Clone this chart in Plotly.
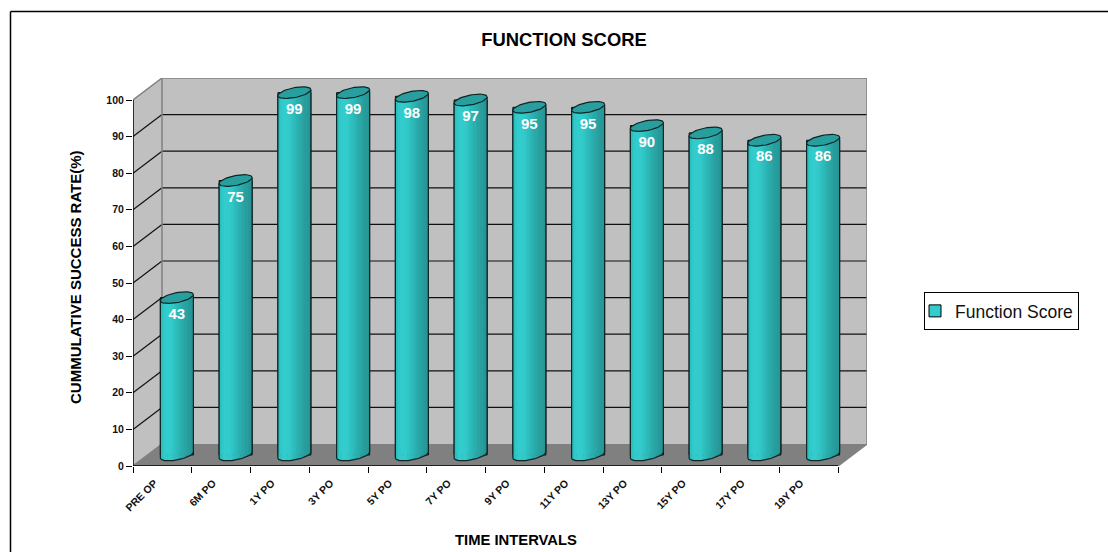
import numpy as np
import plotly.graph_objects as go

categories = ["PRE OP", "6M PO", "1Y PO", "3Y PO", "5Y PO", "7Y PO", "9Y PO", "11Y PO", "13Y PO", "15Y PO", "17Y PO", "19Y PO"]
values = [43, 75, 99, 99, 98, 97, 95, 95, 90, 88, 86, 86]
y_ticks = list(range(0, 101, 10))
series_name = "Function Score"
strip_colors = ["#2BBEBE", "#30C8C8", "#33CCCC", "#33CCCC", "#33CACA", "#31C5C5", "#2FBEBE", "#2DB7B7",
                "#2BB0B0", "#2AA9A9", "#29A3A3", "#289D9D", "#279999", "#269494"]

W, H = 1108, 552
PX_L, PX_R, PX_T, PX_B = 133, 867, 78, 466
PX_PER_CAT = 705 / 12
PX_PER_UNIT = 3.66
DX = 29 / PX_PER_CAT        # depth of the 3-D box, category units
DY = 22 / PX_PER_UNIT       # depth of the 3-D box, value units
x0, x1 = -0.5, 11.5
y_top = (PX_B - PX_T) / PX_PER_UNIT
x_end = x0 + (PX_R - PX_L) / PX_PER_CAT
n = len(categories)
idx = np.arange(n)
BAR_W = 33 / PX_PER_CAT
ELL_B = 5 / PX_PER_UNIT
ELL_K = 3 / PX_PER_UNIT
centers = idx + DX / 2

fig = go.Figure()

# solid bar body through the bar engine
fig.add_trace(go.Bar(x=centers, y=values, base=DY / 2, width=BAR_W, name=series_name,
                     marker=dict(color="#33CCCC", line=dict(color="black", width=1)),
                     showlegend=True, hoverinfo="skip"))

def front_edge(cx, level, t0, t1, m=6):
    """points along the lower half of the tilted ellipse, between fractions t0,t1 of the width"""
    u = np.linspace(t0, t1, m)
    c = 2 * u - 1
    s = np.sqrt(np.clip(1 - c * c, 0, 1))
    return cx + c * BAR_W / 2, level + c * ELL_K - s * ELL_B

m = len(strip_colors)
for cx, v in zip(centers, values):
    top = v + DY / 2
    bot = DY / 2
    for j, col in enumerate(strip_colors):
        t0, t1 = j / m, (j + 1.15) / m
        t1 = min(t1, 1)
        xa, ya = front_edge(cx, top, t0, t1)
        xb, yb = front_edge(cx, bot, t0, t1)
        fig.add_trace(go.Scatter(x=np.r_[xa, xb[::-1]], y=np.r_[ya, yb[::-1]], mode="lines", fill="toself",
                                 fillcolor=col, line=dict(width=0, color=col), showlegend=False, hoverinfo="skip"))
    # outline of the side and the base
    xb, yb = front_edge(cx, bot, 0, 1, 40)
    xo = np.r_[cx - BAR_W / 2, xb, cx + BAR_W / 2]
    yo = np.r_[top - ELL_K, yb, top + ELL_K]
    fig.add_trace(go.Scatter(x=xo, y=yo, mode="lines", line=dict(color="#0F2626", width=1.2),
                             showlegend=False, hoverinfo="skip"))
    # top cap
    th = np.linspace(0, 2 * np.pi, 60)
    xc = cx + np.cos(th) * BAR_W / 2
    yc = top + np.cos(th) * ELL_K + np.sin(th) * ELL_B
    fig.add_trace(go.Scatter(x=xc, y=yc, mode="lines", fill="toself", fillcolor="#289E9E",
                             line=dict(color="#0F2626", width=1.2), showlegend=False, hoverinfo="skip"))

# value labels
fig.add_trace(go.Scatter(x=centers, y=np.array(values) + DY / 2 - 17.5 / PX_PER_UNIT, mode="text",
                         text=[str(v) for v in values], textposition="middle center",
                         textfont=dict(family="Liberation Sans", size=15, color="white", weight="bold"),
                         showlegend=False, hoverinfo="skip"))

shapes = []
GRID = "#101010"
WALL = "#C0C0C0"
EDGE = "#808080"
# back wall, side wall, floor
shapes.append(dict(type="path", layer="below", xref="x", yref="y", line=dict(width=0), fillcolor=WALL,
                   path=f"M{x0+DX},{DY} L{x1+DX},{DY} L{x1+DX},{100+DY} L{x0+DX},{100+DY} Z"))
shapes.append(dict(type="path", layer="below", xref="x", yref="y", line=dict(width=0), fillcolor=WALL,
                   path=f"M{x0},0 L{x0+DX},{DY} L{x0+DX},{100+DY} L{x0},100 Z"))
shapes.append(dict(type="path", layer="below", xref="x", yref="y", line=dict(width=0), fillcolor=EDGE,
                   path=f"M{x0},0 L{x0+DX},{DY} L{x1+DX},{DY} L{x1},0 Z"))
for t in y_ticks[1:-1]:
    shapes.append(dict(type="line", layer="below", xref="x", yref="y", x0=x0, y0=t, x1=x0 + DX, y1=t + DY,
                       line=dict(color=GRID, width=1.2)))
    shapes.append(dict(type="line", layer="below", xref="x", yref="y", x0=x0 + DX, y0=t + DY, x1=x1 + DX, y1=t + DY,
                       line=dict(color=GRID, width=1.2)))
# grey wall edges
for a, b, c, d in [(x0, 100, x0 + DX, 100 + DY), (x0 + DX, 100 + DY, x1 + DX, 100 + DY),
                   (x1 + DX, 100 + DY, x1 + DX, DY), (x0 + DX, 100 + DY, x0 + DX, DY),
                   (x1 + DX, DY, x1, 0), (x0, 0, x0 + DX, DY)]:
    shapes.append(dict(type="line", layer="below", xref="x", yref="y", x0=a, y0=b, x1=c, y1=d,
                       line=dict(color=EDGE, width=1.5)))
# front axis lines
shapes.append(dict(type="line", layer="above", xref="x", yref="y", x0=x0, y0=0, x1=x0, y1=100,
                   line=dict(color="black", width=1.5)))
shapes.append(dict(type="line", layer="above", xref="x", yref="y", x0=x0, y0=0, x1=x1, y1=0,
                   line=dict(color="black", width=1.5)))
# outer frame, top and left only
shapes.append(dict(type="line", xref="paper", yref="paper", x0=10.5 / W, x1=1, y0=1 - 11.5 / H, y1=1 - 11.5 / H,
                   line=dict(color="black", width=1.5)))
shapes.append(dict(type="line", xref="paper", yref="paper", x0=10.5 / W, x1=10.5 / W, y0=0, y1=1 - 11.5 / H,
                   line=dict(color="black", width=1.5)))

annotations = [
    dict(text="<b>TIME INTERVALS</b>", xref="paper", yref="paper", x=516 / W, y=1 - 540 / H, xanchor="center",
         yanchor="middle", showarrow=False, font=dict(family="Liberation Sans", size=14.8, color="black")),
    dict(text="<b>CUMMULATIVE SUCCESS RATE(%)</b>", xref="paper", yref="paper", x=75 / W, y=1 - 277 / H,
         xanchor="center", yanchor="middle", textangle=-90, showarrow=False,
         font=dict(family="Liberation Sans", size=15, color="black")),
]

fig.update_layout(
    width=W, height=H, margin=dict(l=0, r=0, t=0, b=0, autoexpand=False), autosize=False,
    paper_bgcolor="white", plot_bgcolor="white", barmode="overlay",
    font=dict(family="Liberation Sans", color="black"),
    title=dict(text="<b>FUNCTION SCORE</b>", x=564 / W, xanchor="center", y=1 - 40 / H, yanchor="middle",
               font=dict(family="Liberation Sans", size=18.4, color="black")),
    xaxis=dict(domain=[PX_L / W, PX_R / W], range=[x0, x_end], showgrid=False, zeroline=False, showline=False,
               tickmode="array", tickvals=list(idx), ticktext=categories, tickangle=-45,
               ticks="", ticklabelshift=-8, ticklabelstandoff=8,
               tickfont=dict(family="Liberation Sans", size=10.5, color="#111111", weight="bold"),
               minor=dict(tickmode="array", tickvals=[x0 + i for i in range(n + 1)], ticks="outside", ticklen=6,
                          tickwidth=1, tickcolor="black", showgrid=False)),
    yaxis=dict(domain=[1 - PX_B / H, 1 - PX_T / H], range=[0, y_top], showgrid=False, zeroline=False, showline=False,
               tickmode="array", tickvals=y_ticks, ticks="outside", ticklen=6, tickwidth=1, tickcolor="black",
               tickfont=dict(family="Liberation Sans", size=10.5, color="#111111", weight="bold")),
    legend=dict(x=924 / W, y=1 - 311 / H, xanchor="left", yanchor="middle", bgcolor="white", bordercolor="black",
                borderwidth=1, indentation=-10, font=dict(family="Liberation Sans", size=17.5, color="#111111")),
    shapes=shapes, annotations=annotations, showlegend=True,
)

fig.write_html("out.html", post_script="document.body.style.margin='0';", config={"displayModeBar": False})
